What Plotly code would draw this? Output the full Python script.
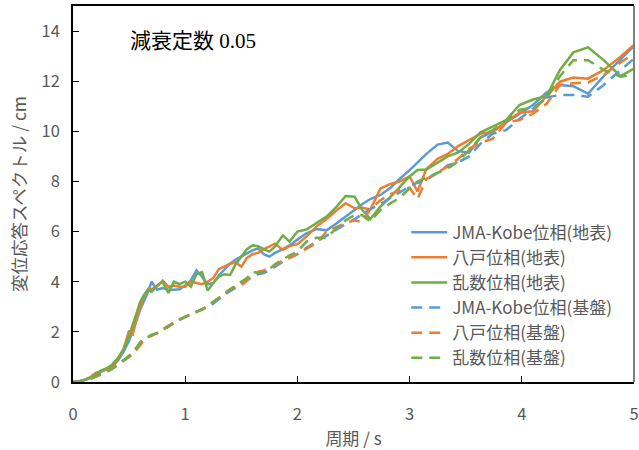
import plotly.graph_objects as go

period = [0, 0.05, 0.1, 0.15, 0.2, 0.25, 0.3, 0.35, 0.4, 0.45, 0.5, 0.53, 0.57, 0.6, 0.63, 0.67, 0.7,
          0.75, 0.8, 0.85, 0.9, 0.95, 1.0, 1.05, 1.1, 1.15, 1.2, 1.25, 1.3, 1.35, 1.4, 1.45, 1.5,
          1.55, 1.6, 1.65, 1.7, 1.75, 1.8, 1.87, 1.93, 2.0, 2.08, 2.17, 2.26, 2.35, 2.43, 2.51,
          2.58, 2.65, 2.74, 2.83, 2.91, 3.0, 3.07, 3.15, 3.25, 3.34, 3.43, 3.53, 3.63, 3.74, 3.86,
          3.98, 4.1, 4.22, 4.34, 4.46, 4.59, 4.73, 4.88, 5.0]

kobe_surface = [0, 0.02, 0.08, 0.15, 0.25, 0.4, 0.5, 0.62, 0.85, 1.2, 1.65, 2.0, 2.5, 2.9, 3.2, 3.6, 4.0,
                3.68, 3.75, 3.68, 3.68, 3.7, 3.85, 4.05, 4.45, 4.2, 3.9, 3.95, 4.25, 4.5, 4.72, 4.88, 5.0,
                5.12, 5.25, 5.33, 5.1, 5.0, 5.15, 5.3, 5.45, 5.68, 5.93, 6.1, 6.05, 6.33, 6.6, 6.88,
                7.1, 7.3, 7.46, 7.75, 8.1, 8.45, 8.75, 9.1, 9.47, 9.55, 9.22, 9.15, 9.75, 9.98, 10.35,
                10.7, 11.05, 11.55, 11.85, 11.8, 11.5, 12.2, 12.85, 13.4]

hachinohe_surface = [0, 0.02, 0.08, 0.18, 0.35, 0.42, 0.5, 0.65, 0.9, 1.3, 2.05, 1.85, 2.6, 3.0, 3.4, 3.72, 3.7,
                     3.82, 4.05, 3.8, 3.85, 3.8, 3.8, 4.0, 3.95, 3.9, 4.0, 4.15, 4.5, 4.6, 4.72, 4.78, 4.6,
                     4.95, 5.1, 5.15, 5.3, 5.4, 5.52, 5.27, 5.42, 5.5, 5.8, 6.2, 6.5, 6.85, 7.13, 6.93,
                     6.95, 6.88, 7.72, 7.9, 8.0, 8.2, 7.6, 8.5, 8.9, 9.1, 9.4, 9.65, 9.9, 9.98, 10.38,
                     10.74, 10.8, 11.4, 11.98, 12.15, 12.1, 12.45, 12.98, 13.45]

random_surface = [0, 0.02, 0.08, 0.15, 0.3, 0.45, 0.55, 0.7, 0.95, 1.3, 1.85, 2.3, 2.8, 3.2, 3.45, 3.7, 3.6,
                  3.85, 4.0, 3.55, 4.0, 3.9, 4.0, 3.8, 4.3, 4.38, 3.65, 3.95, 4.2, 4.3, 4.27, 4.7, 5.0,
                  5.3, 5.45, 5.42, 5.3, 5.2, 5.4, 5.85, 5.6, 6.0, 6.08, 6.33, 6.6, 7.0, 7.42, 7.39,
                  6.85, 6.5, 7.0, 7.39, 7.79, 8.2, 8.46, 8.48, 8.75, 9.0, 9.15, 9.5, 9.95, 10.18, 10.45,
                  11.05, 11.27, 11.4, 12.45, 13.15, 13.35, 12.84, 12.2, 12.5]

kobe_base = [0, 0.01, 0.05, 0.12, 0.2, 0.3, 0.42, 0.55, 0.7, 0.85, 1.0, 1.15, 1.35, 1.55, 1.7, 1.8, 1.88,
             1.95, 2.1, 2.22, 2.35, 2.48, 2.6, 2.68, 2.78, 2.88, 3.0, 3.12, 3.3, 3.48, 3.62, 3.75, 3.9,
             4.05, 4.2, 4.3, 4.35, 4.45, 4.6, 4.8, 4.95, 5.1, 5.35, 5.6, 5.85, 6.1, 6.3, 6.5,
             6.7, 6.9, 7.1, 7.35, 7.55, 7.8, 7.95, 8.06, 8.35, 8.65, 8.75, 9.0, 9.5, 9.9, 10.05,
             10.5, 10.9, 11.35, 11.45, 11.45, 11.38, 11.85, 12.45, 12.9]

hachinohe_base = [0, 0.01, 0.05, 0.12, 0.22, 0.32, 0.42, 0.55, 0.7, 0.85, 1.0, 1.1, 1.3, 1.5, 1.65, 1.78, 1.85,
                  1.95, 2.1, 2.25, 2.35, 2.5, 2.6, 2.7, 2.8, 2.9, 3.05, 3.2, 3.35, 3.55, 3.7, 3.8, 3.85,
                  4.05, 4.25, 4.4, 4.45, 4.55, 4.65, 4.85, 4.95, 5.1, 5.3, 5.55, 6.0, 6.2, 6.35, 6.45,
                  6.38, 6.9, 7.25, 7.5, 7.65, 7.75, 7.3, 8.1, 8.35, 8.6, 8.9, 9.3, 9.55, 9.7, 10.35,
                  10.45, 10.7, 11.1, 11.85, 11.92, 11.95, 12.25, 12.75, 13.1]

random_base = [0, 0.01, 0.05, 0.12, 0.2, 0.3, 0.4, 0.52, 0.68, 0.85, 1.05, 1.2, 1.4, 1.6, 1.72, 1.8, 1.88,
               1.95, 2.1, 2.2, 2.4, 2.5, 2.6, 2.7, 2.8, 2.9, 3.0, 3.2, 3.35, 3.5, 3.7, 3.85, 4.0,
               4.15, 4.4, 4.35, 4.4, 4.5, 4.7, 4.9, 5.05, 5.2, 5.6, 5.75, 5.75, 6.15, 6.45, 6.66,
               6.65, 6.4, 6.86, 7.13, 7.35, 7.72, 8.0, 8.15, 8.35, 8.52, 8.8, 9.25, 9.75, 10.05, 10.42,
               10.85, 10.95, 11.3, 12.2, 12.84, 12.84, 12.45, 12.18, 12.25]

series_names = ["JMA-Kobe位相(地表)", "八戸位相(地表)", "乱数位相(地表)",
                "JMA-Kobe位相(基盤)", "八戸位相(基盤)", "乱数位相(基盤)"]
series_values = [kobe_surface, hachinohe_surface, random_surface,
                 kobe_base, hachinohe_base, random_base]
colors = ["#5B9BD5", "#ED7D31", "#70AD47", "#5B9BD5", "#ED7D31", "#70AD47"]
dashes = ["solid", "solid", "solid", "11px,7px", "11px,7px", "11px,7px"]

x_ticks = [0, 1, 2, 3, 4, 5]
y_ticks = [0, 2, 4, 6, 8, 10, 12, 14]

fig = go.Figure()
for name, vals, c, d in zip(series_names, series_values, colors, dashes):
    fig.add_trace(go.Scatter(x=period, y=vals, name=name, mode="lines",
                             line=dict(color=c, width=2.5, dash=d)))

font_fam = "Noto Sans CJK JP, Noto Sans, sans-serif"
fig.update_layout(
    width=639, height=450,
    margin=dict(l=73, r=5, t=6, b=68, autoexpand=False),
    paper_bgcolor="white", plot_bgcolor="white",
    font=dict(family=font_fam, color="#595959", size=16),
    legend=dict(x=0.594, y=0.445, xanchor="left", yanchor="top",
                bgcolor="rgba(255,255,255,0)", font=dict(size=17, color="#595959"),
                itemwidth=36, tracegroupgap=0),
    showlegend=True,
)
fig.update_xaxes(range=[0, 5], tickvals=x_ticks, ticks="inside", ticklen=6,
                 tickcolor="black", showline=True, linecolor="black", linewidth=1.5,
                 mirror=True, showgrid=False, zeroline=False, automargin=False,
                 ticklabelstandoff=16, tickfont=dict(size=16.5),
                 title=dict(text="周期 / s", standoff=10, font=dict(size=17, color="#595959")))
fig.update_yaxes(range=[0, 15], tickvals=y_ticks, ticks="inside", ticklen=6,
                 tickcolor="black", showline=True, linecolor="black", linewidth=1.5,
                 showgrid=False, zeroline=False, ticklabelstandoff=8, automargin=False,
                 tickfont=dict(size=16.5),
                 title=dict(text="変位応答スペクトル / cm", standoff=10,
                            font=dict(size=17.5, color="#595959")))
fig.add_shape(type="line", xref="paper", yref="paper", x0=1, x1=1, y0=0, y1=1,
              line=dict(color="#7f7f7f", width=2))
fig.add_annotation(x=0.098, y=0.945, xref="paper", yref="paper", xanchor="left", yanchor="top",
                   text="減衰定数 0.05", showarrow=False,
                   font=dict(family="Liberation Serif, Noto Sans CJK JP, serif", size=21, color="black"))

fig.write_html("out.html", config={"displayModeBar": False},
               post_script="document.body.style.margin='0';document.body.style.overflow='hidden';")
